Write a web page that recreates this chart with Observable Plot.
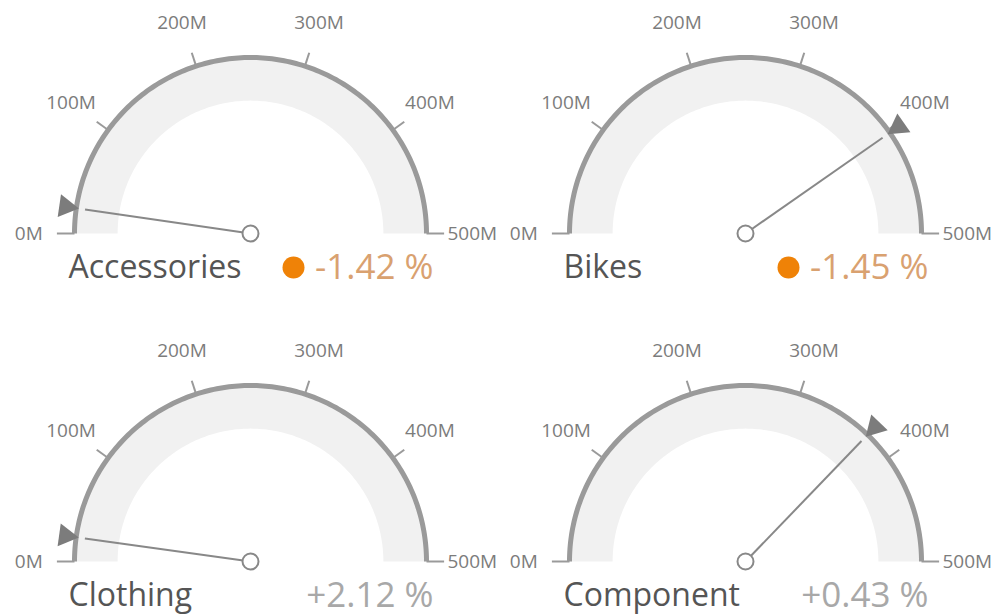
<!DOCTYPE html>
<html>
<head>
<meta charset="utf-8">
<script src="https://cdn.jsdelivr.net/npm/d3@7"></script>
<script src="https://cdn.jsdelivr.net/npm/@observablehq/plot@0.6"></script>
<style>
  html, body { margin: 0; padding: 0; background: #fff; overflow: hidden; }
</style>
</head>
<body>
<div id="chart"></div>
<script>
// ---- data ----
const categories = ["Accessories", "Bikes", "Clothing", "Component"];
const values = [23e6, 403e6, 22e6, 372e6];          // gauge needle values
const deltas = [-1.42, -1.45, 2.12, 0.43];          // percent variation
const tickValues = [0, 100e6, 200e6, 300e6, 400e6, 500e6];
const tickLabels = ["0M", "100M", "200M", "300M", "400M", "500M"];
const gaugeMin = 0;
const gaugeMax = 500e6;

// ---- layout (pixels) ----
const W = 993, H = 616;
const R = 176;                       // gauge radius in px = 1 unit
const colCentersPx = [250, 745];
const rowCentersPx = [233, 561];
const u = px => px / R;

const angle = d3.scaleLinear().domain([gaugeMin, gaugeMax]).range([Math.PI, 0]);
const px = (g, r, a) => g.cx + r * Math.cos(a);
const py = (g, r, a) => g.cy - r * Math.sin(a);

const gauges = categories.map((name, i) => ({
  name,
  value: values[i],
  delta: deltas[i],
  cx: u(colCentersPx[i % 2]),
  cy: u(rowCentersPx[Math.floor(i / 2)])
}));

// arc & band geometry along the gauge scale
const steps = d3.range(0, 181).map(k => gaugeMin + (gaugeMax - gaugeMin) * k / 180);
const rOuter = 0.99, rInner = 0.755;
const arcPts = gauges.flatMap(g => steps.map(v => ({name: g.name, x: px(g, 1, angle(v)), y: py(g, 1, angle(v))})));
const bandPts = gauges.flatMap(g => [
  ...steps.map(v => ({name: g.name, x: px(g, rOuter, angle(v)), y: py(g, rOuter, angle(v))})),
  ...steps.slice().reverse().map(v => ({name: g.name, x: px(g, rInner, angle(v)), y: py(g, rInner, angle(v))}))
]);

const ticks = gauges.flatMap(g => tickValues.map((v, j) => {
  const a = angle(v);
  const end = (v === gaugeMin || v === gaugeMax);
  const len = end ? 1.1 : 1.08;
  return {
    name: g.name,
    label: tickLabels[j],
    x1: px(g, 1, a), y1: py(g, 1, a),
    x2: px(g, len, a), y2: py(g, len, a),
    lx: px(g, 1.26, a), ly: py(g, 1.26, a)
  };
}));

const labelY = g => g.cy + u(34);

const chart = Plot.plot({
  width: W,
  height: H,
  margin: 0,
  x: {domain: [0, u(W)], axis: null},
  y: {domain: [0, u(H)], reverse: true, axis: null},
  color: {type: "identity"},
  style: {fontFamily: "'Open Sans', 'Noto Sans', sans-serif", background: "#fff", overflow: "visible"},
  marks: [
    // light band
    Plot.line(bandPts, {x: "x", y: "y", z: "name", fill: "#f1f1f1", stroke: "none", curve: "linear"}),
    // scale arc
    Plot.line(arcPts, {x: "x", y: "y", z: "name", stroke: "#9a9a9a", strokeWidth: 5, curve: "linear", strokeLinecap: "butt"}),
    // ticks
    Plot.link(ticks, {x1: "x1", y1: "y1", x2: "x2", y2: "y2", stroke: "#9a9a9a", strokeWidth: 2}),
    // tick labels
    Plot.text(ticks, {x: "lx", y: "ly", text: "label", fontSize: 19, fill: "#7c7c7c"}),
    // needle
    Plot.link(gauges, {
      x1: g => g.cx, y1: g => g.cy,
      x2: g => px(g, 0.95, angle(g.value)), y2: g => py(g, 0.95, angle(g.value)),
      stroke: "#888888", strokeWidth: 2
    }),
    // triangle marker
    Plot.dot(gauges, {
      x: g => px(g, 1.06, angle(g.value)), y: g => py(g, 1.06, angle(g.value)),
      symbol: "triangle", r: 8.5, fill: "#7c7c7c", stroke: "none",
      rotate: g => -(angle(g.value) * 180 / Math.PI + 90)
    }),
    // needle hub
    Plot.dot(gauges, {x: "cx", y: "cy", r: 8, fill: "#fff", stroke: "#888888", strokeWidth: 2}),
    // category name
    Plot.text(gauges, {
      x: g => g.cx - u(182), y: labelY, text: "name",
      textAnchor: "start", fontSize: 32, fill: "#555555"
    }),
    // indicator dot for negative deltas
    Plot.dot(gauges.filter(g => g.delta < 0), {
      x: g => g.cx + u(43), y: labelY, r: 11, fill: "#ef8207", stroke: "none"
    }),
    // delta text
    Plot.text(gauges, {
      x: g => g.cx + u(183), y: labelY,
      text: g => (g.delta > 0 ? "+" : "") + g.delta.toFixed(2) + " %",
      textAnchor: "end", fontSize: 35,
      fill: g => g.delta < 0 ? "#d9a170" : "#a8a8a8"
    })
  ]
});
document.getElementById("chart").append(chart);
</script>
</body>
</html>
